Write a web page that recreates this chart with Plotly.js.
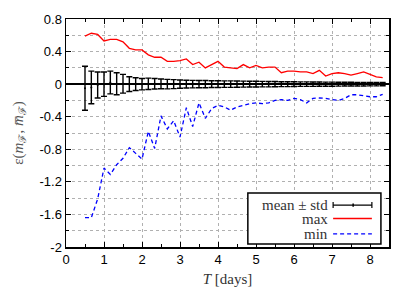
<!DOCTYPE html>
<html>
<head>
<meta charset="utf-8">
<script src="https://cdn.plot.ly/plotly-3.0.1.min.js"></script>
<style>html,body{margin:0;padding:0;background:#fff;}#chart{width:415px;height:292px;}</style>
</head>
<body>
<div id="chart"></div>
<script>
// time axis: every 4 hours from 0.5 day
const T_START = 0.5;
const T_STEP_DEN = 6;
const N_POINTS = 48;

const maxVals = [0.59, 0.625, 0.61, 0.53, 0.55, 0.55, 0.52, 0.44, 0.42, 0.42, 0.36, 0.33, 0.33, 0.28, 0.28,
  0.29, 0.31, 0.24, 0.27, 0.20, 0.24, 0.28, 0.21, 0.20, 0.19, 0.24, 0.20, 0.23, 0.20, 0.21, 0.21, 0.14,
  0.16, 0.16, 0.15, 0.15, 0.13, 0.17, 0.10, 0.13, 0.14, 0.13, 0.11, 0.13, 0.15, 0.12, 0.09, 0.08];

const minVals = [-1.64, -1.64, -1.41, -1.03, -1.11, -0.99, -0.91, -0.78, -0.85, -0.92, -0.58, -0.79, -0.39, -0.55,
  -0.45, -0.65, -0.29, -0.52, -0.23, -0.42, -0.30, -0.26, -0.28, -0.32, -0.28, -0.26, -0.24, -0.23, -0.24,
  -0.23, -0.20, -0.19, -0.20, -0.175, -0.19, -0.23, -0.175, -0.17, -0.175, -0.19, -0.20, -0.175, -0.13,
  -0.13, -0.14, -0.155, -0.155, -0.125];

const meanVals = [-0.05, -0.04, -0.01, 0.0, 0.02, 0.005, 0.005, 0.0, 0.0, 0.0, 0.004, 0.005, 0.003, 0.0, 0.0,
  0.0, 0.0, 0.0, 0.0, 0.0, 0.0, 0.0, 0.0, 0.0, 0.0, 0.0, 0.0, 0.0, 0.0, 0.0, 0.0, 0.0,
  0.0, 0.0, 0.0, 0.0, 0.0, 0.0, 0.0, 0.0, 0.0, 0.0, 0.0, 0.0, 0.0, 0.0, 0.0, 0.0];

const stdVals = [0.27, 0.20, 0.16, 0.15, 0.14, 0.135, 0.115, 0.09, 0.078, 0.07, 0.07, 0.065, 0.06, 0.058, 0.055,
  0.05, 0.048, 0.046, 0.045, 0.044, 0.042, 0.042, 0.04, 0.04, 0.038, 0.037, 0.036, 0.035, 0.034, 0.033,
  0.032, 0.03, 0.03, 0.029, 0.028, 0.028, 0.027, 0.026, 0.025, 0.025, 0.024, 0.023, 0.023, 0.022, 0.022,
  0.021, 0.021, 0.02];

const xTickVals = [0, 1, 2, 3, 4, 5, 6, 7, 8];
const xTickText = ['0', '1', '2', '3', '4', '5', '6', '7', '8'];
const yTickVals = [0.8, 0.4, 0, -0.4, -0.8, -1.2, -1.6, -2];
const yTickText = ['0.8', '0.4', '0', '-0.4', '-0.8', '-1.2', '-1.6', '-2'];

const legendLabels = ['mean \u00B1 std', 'max', 'min'];

const tDays = [];
for (let i = 0; i < N_POINTS; i++) tDays.push(T_START + i / T_STEP_DEN);

const serif = '"Liberation Serif", "DejaVu Serif", serif';
const sans = '"Liberation Sans", Arial, sans-serif';

const traces = [
  {x: tDays, y: maxVals, type: 'scatter', mode: 'lines', line: {color: '#ff0000', width: 1.3}, hoverinfo: 'skip'},
  {x: tDays, y: minVals, type: 'scatter', mode: 'lines', line: {color: '#0000ff', width: 1.3, dash: '4px,3px'}, hoverinfo: 'skip'},
  {x: tDays, y: meanVals, type: 'scatter', mode: 'markers', marker: {color: '#000', size: 2},
   error_y: {type: 'data', array: stdVals, visible: true, color: '#000', thickness: 1.4, width: 3}, hoverinfo: 'skip'}
];

// legend geometry (paper coordinates)
const lgX0 = 0.563, lgX1 = 0.975, lgY0 = 0.013, lgY1 = 0.237;
const sX0 = 0.827, sX1 = 0.947, sMid = 0.889, txtX = 0.818;
const rows = [0.184, 0.125, 0.058];

const shapes = [
  {type: 'rect', xref: 'paper', yref: 'paper', x0: lgX0, x1: lgX1, y0: lgY0, y1: lgY1,
   line: {color: '#000', width: 1.5}, fillcolor: '#fff', layer: 'above'},
  {type: 'line', xref: 'paper', yref: 'paper', x0: sX0, x1: sX1, y0: rows[0], y1: rows[0], line: {color: '#000', width: 1.2}},
  {type: 'line', xref: 'paper', yref: 'paper', x0: sX0, x1: sX0, y0: rows[0] - 0.013, y1: rows[0] + 0.013, line: {color: '#000', width: 1.2}},
  {type: 'line', xref: 'paper', yref: 'paper', x0: sX1, x1: sX1, y0: rows[0] - 0.013, y1: rows[0] + 0.013, line: {color: '#000', width: 1.2}},
  {type: 'line', xref: 'paper', yref: 'paper', x0: sMid, x1: sMid, y0: rows[0] - 0.007, y1: rows[0] + 0.007, line: {color: '#000', width: 1.5}},
  {type: 'line', xref: 'paper', yref: 'paper', x0: sX0, x1: sX1, y0: rows[1], y1: rows[1], line: {color: '#ff0000', width: 1.3}},
  {type: 'line', xref: 'paper', yref: 'paper', x0: sX0, x1: sX1, y0: rows[2], y1: rows[2], line: {color: '#0000ff', width: 1.3, dash: '4px,3px'}}
];

const annotations = legendLabels.map((t, i) => ({
  xref: 'paper', yref: 'paper', x: txtX, y: rows[i], xanchor: 'right', yanchor: 'middle',
  text: t, showarrow: false, font: {family: serif, size: 15, color: '#333'}
}));

const axisCommon = {
  showline: true, linecolor: '#000', linewidth: 1.5, mirror: 'ticks',
  ticks: 'inside', ticklen: 5, tickwidth: 1, tickcolor: '#000',
  showgrid: true, gridcolor: '#b0b0b0', gridwidth: 1, griddash: 'dot',
  zeroline: false, tickfont: {family: sans, size: 13, color: '#000'}
};

const layout = {
  width: 415, height: 292,
  margin: {l: 66, r: 26, t: 19, b: 45, pad: 0},
  paper_bgcolor: '#fff', plot_bgcolor: '#fff',
  showlegend: false,
  xaxis: Object.assign({}, axisCommon, {
    range: [0, 8.5], tickmode: 'array', tickvals: xTickVals, ticktext: xTickText,
    minor: {dtick: 0.5, tick0: 0, ticks: 'inside', ticklen: 3, tickcolor: '#000', showgrid: false},
    title: {text: '<i>T</i> [days]', font: {family: serif, size: 15, color: '#333'}, standoff: 7}
  }),
  yaxis: Object.assign({}, axisCommon, {
    range: [-2, 0.8], tickmode: 'array', tickvals: yTickVals, ticktext: yTickText,
    zeroline: true, zerolinecolor: '#000', zerolinewidth: 1.3,
    minor: {dtick: 0.2, tick0: 0, ticks: 'inside', ticklen: 3, tickcolor: '#000',
            showgrid: true, gridcolor: '#b0b0b0', griddash: 'dot', gridwidth: 1},
    title: {text: '\u03B5(<i>m</i><sub>\u2131</sub>, <i>m\u0305</i><sub>\u2131</sub>)', font: {family: serif, size: 15, color: '#555'}, standoff: 12}
  }),
  shapes: shapes,
  annotations: annotations
};

Plotly.newPlot('chart', traces, layout, {displayModeBar: false, staticPlot: true});
</script>
</body>
</html>
